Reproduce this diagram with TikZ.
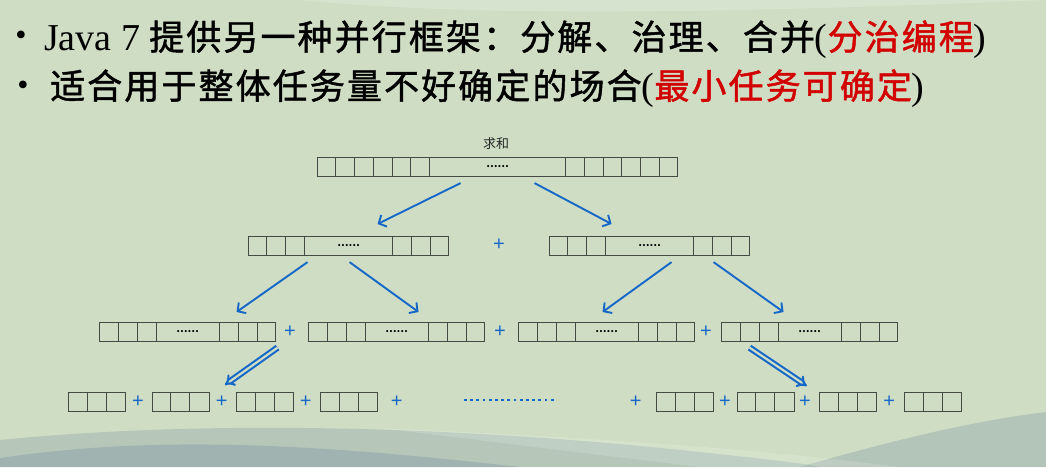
\documentclass[tikz,border=0pt]{standalone}
\usepackage{fontspec}
\setmainfont{Liberation Serif}
\newfontfamily\cjk{Noto Sans CJK SC}[LetterSpace=6,FakeBold=1.3]
\newfontfamily\cjksmall{Noto Sans CJK SC}
\newfontfamily\plusfont{Liberation Sans}
\usetikzlibrary{arrows.meta}

\definecolor{bggreen}{RGB}{206,221,196}
\definecolor{swoosh}{RGB}{112,134,156}
\definecolor{arrowblue}{RGB}{22,104,200}
\definecolor{cellgray}{RGB}{70,74,68}
\definecolor{hotred}{RGB}{210,0,0}

% one task array: name, left x, top y, cells per side, cell width, middle width
\newcommand{\taskarray}[6]{%
	\pgfmathsetmacro\sidew{#4*#5}
	\pgfmathsetmacro\totw{2*\sidew+#6}
	\node[arr, minimum width=\totw pt, anchor=north west] (#1) at (#2,#3) {};
	\foreach \i in {1,...,#4} {
		\draw[cell] ([xshift=\i*#5pt]#1.north west) -- ([xshift=\i*#5pt]#1.south west);
		\draw[cell] ([xshift=-\i*#5pt]#1.north east) -- ([xshift=-\i*#5pt]#1.south east);
	}
	\node[dots] at (#1.center) {……};
}
% one leaf task: name, left x, top y
\newcommand{\leaftask}[3]{%
	\node[arr, minimum width=57pt, anchor=north west] (#1) at (#2,#3) {};
	\draw[cell] ([xshift=19pt]#1.north west) -- ([xshift=19pt]#1.south west);
	\draw[cell] ([xshift=38pt]#1.north west) -- ([xshift=38pt]#1.south west);
}

\begin{document}
\begin{tikzpicture}
	[x=1pt,y=-1pt,
		arr/.style={draw=cellgray,line width=1.1pt,inner sep=0pt,minimum height=18.5pt},
		cell/.style={draw=cellgray,line width=0.8pt},
		dots/.style={font=\cjksmall\fontsize{10}{10}\selectfont\bfseries,text=black,inner sep=0pt},
		plus/.style={font=\plusfont\fontsize{20}{20}\selectfont,text=arrowblue,inner sep=0pt},
		split/.style={draw=arrowblue,line width=1.9pt,-{Straight Barb[length=6pt,width=13pt,line width=1.9pt]}},
		fold/.style={draw=arrowblue,double=bggreen,double distance=2.2pt,line width=2.1pt,-{Implies[length=8pt,width=15pt]}},
		bullet/.style={font=\fontsize{32}{32}\selectfont,inner sep=0pt}]

	% background
	\useasboundingbox (0,0) rectangle (1046,467);
	\fill[bggreen] (0,0) rectangle (1046,467);
	\fill[white,opacity=0.18] (300,0) .. controls (500,20) and (800,10) .. (1046,0) -- cycle;
	\fill[swoosh,opacity=0.25] (0,440) .. controls (200,420) and (450,425) .. (700,452) .. controls (800,463) .. (820,467) -- (0,467) -- cycle;
	\fill[swoosh,opacity=0.3] (0,458) .. controls (150,436) and (300,442) .. (520,467) -- (0,467) -- cycle;
	\fill[swoosh,opacity=0.28] (800,467) .. controls (900,438) and (980,420) .. (1046,412) -- (1046,467) -- cycle;
	\fill[white,opacity=0.15] (380,428) .. controls (600,438) and (750,448) .. (900,467) -- (700,467) .. controls (600,455) .. (380,428) -- cycle;

	% headline bullets
	\node[bullet] (b1) at (21,38) {•};
	\node[bullet] (b2) at (23,88) {•};
	\node[anchor=base west,inner sep=0pt] (line1) at (44,50)
		{{\fontsize{38}{38}\selectfont Java 7}\hspace{9pt}{\cjk\fontsize{35}{35}\selectfont 提供另一种并行框架：分解、治理、合并}{\fontsize{38}{38}\selectfont (}\textcolor{hotred}{\cjk\fontsize{35}{35}\selectfont 分治编程}{\fontsize{38}{38}\selectfont )}};
	\node[anchor=base west,inner sep=0pt] (line2) at (50,99)
		{{\cjk\fontsize{35}{35}\selectfont 适合用于整体任务量不好确定的场合}{\fontsize{38}{38}\selectfont (}\textcolor{hotred}{\cjk\fontsize{35}{35}\selectfont 最小任务可确定}{\fontsize{38}{38}\selectfont )}};

	% level 0
	\node[font=\cjksmall\fontsize{13}{13}\selectfont,text=black!85] (sumlabel) at (496,144) {求和};
	\taskarray{sumAll}{317}{157}{6}{18.75}{135}
	% level 1
	\taskarray{halfL}{248}{236}{3}{18.75}{87.5}
	\taskarray{halfR}{549}{236}{3}{18.75}{87.5}
	\node[plus] (p0) at (499,245) {+};
	% level 2
	\taskarray{qA}{99}{322}{3}{19}{62}
	\taskarray{qB}{308}{322}{3}{19}{62}
	\taskarray{qC}{518}{322}{3}{19}{62}
	\taskarray{qD}{721}{322}{3}{19}{62}
	\node[plus] (p1) at (290,332) {+};
	\node[plus] (p2) at (500,332) {+};
	\node[plus] (p3) at (706,332) {+};
	% leaves
	\leaftask{leafA}{68}{392}
	\leaftask{leafB}{151.7}{392}
	\leaftask{leafC}{236}{392}
	\leaftask{leafD}{320}{392}
	\leaftask{leafE}{656}{392}
	\leaftask{leafF}{736.7}{392}
	\leaftask{leafG}{819.3}{392}
	\leaftask{leafH}{904}{392}
	\node[plus] (p4) at (138,401.5) {+};
	\node[plus] (p5) at (221.7,401.5) {+};
	\node[plus] (p6) at (305.7,401.5) {+};
	\node[plus] (p7) at (396.7,401.5) {+};
	\node[plus] (p8) at (635.7,401.5) {+};
	\node[plus] (p9) at (725,401.5) {+};
	\node[plus] (p10) at (805,401.5) {+};
	\node[plus] (p11) at (889.3,401.5) {+};
	\coordinate (gapL) at (464,400);
	\foreach \k in {0,...,14}
		\fill[arrowblue,shift={(gapL)}] (\k*6.2,-1.4) rectangle +(2.8,2.8);

	% splitting
	\draw[split] ([xshift=-37pt,yshift=-6.5pt]sumAll.south) -- ([xshift=29pt,yshift=12pt]halfL.north);
	\draw[split] ([xshift=37pt,yshift=-6.5pt]sumAll.south) -- ([xshift=-38pt,yshift=12pt]halfR.north);
	\draw[split] ([xshift=-41pt,yshift=-6.5pt]halfL.south) -- ([xshift=49pt,yshift=10pt]qA.north);
	\draw[split] ([xshift=1pt,yshift=-6.5pt]halfL.south) -- ([xshift=22pt,yshift=10pt]qB.north);
	\draw[split] ([xshift=22pt,yshift=-6.5pt]halfR.south) -- ([xshift=-4pt,yshift=10pt]qC.north);
	\draw[split] ([xshift=64pt,yshift=-6.5pt]halfR.south) -- ([xshift=-26pt,yshift=10pt]qD.north);
	\draw[fold] ([xshift=90pt,yshift=-6pt]qA.south) -- ([xshift=15pt,yshift=7pt]leafB.north east);
	\draw[fold] ([xshift=-60pt,yshift=-6pt]qD.south) -- ([xshift=12pt,yshift=6pt]leafF.north east);

\end{tikzpicture}
\end{document}
